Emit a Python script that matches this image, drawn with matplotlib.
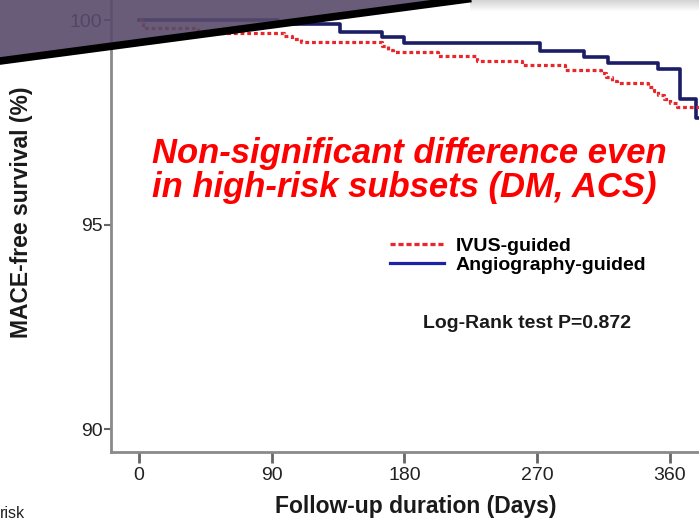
import numpy as np
import matplotlib
matplotlib.use("Agg")
import matplotlib.pyplot as plt
from matplotlib.lines import Line2D
from matplotlib.patches import Polygon

# Kaplan-Meier steps (days, % MACE-free)
ivus_days = [0, 3, 40, 98, 104, 110, 165, 169, 172, 203, 229, 260, 289, 313, 317, 321, 324, 345, 349, 352, 356, 360, 365, 385]
ivus_surv = [100, 99.80, 99.68, 99.61, 99.54, 99.47, 99.36, 99.27, 99.22, 99.12, 99.00, 98.90, 98.79, 98.70,
             98.61, 98.51, 98.46, 98.36, 98.26, 98.17, 98.07, 97.97, 97.88, 97.88]

angio_days = [0, 94, 136, 165, 180, 272, 302, 318, 352, 367, 378, 385]
angio_surv = [100, 99.90, 99.71, 99.58, 99.43, 99.25, 99.10, 98.95, 98.80, 98.07, 97.60, 97.60]

x_ticks = [0, 90, 180, 270, 360]
y_ticks = [90, 95, 100]
labels = ["IVUS-guided", "Angiography-guided"]

RED = "#e8262b"
NAVY = "#1b1d66"
GREY = "#8a8a8a"
FONT = "Liberation Sans"

plt.rcParams['font.family'] = [FONT, 'DejaVu Sans']

fig = plt.figure(figsize=(6.99, 5.23), dpi=100)
W, H = 699, 523
ax = fig.add_axes([110.7 / W, 1 - 452 / H, 1 - 110.7 / W, 452 / H])

ax.step(ivus_days, ivus_surv, where='post', color=RED, lw=2.3, ls=(0, (1.2, 0.9)), zorder=3)
ax.step(angio_days, angio_surv, where='post', color=NAVY, lw=2.6, zorder=2)

ax.set_xlim(-19.2, 379.8)
ax.set_ylim(89.44, 100.49)
ax.set_xticks(x_ticks)
ax.set_yticks(y_ticks)
for s in ['top', 'right']:
    ax.spines[s].set_visible(False)
for s in ['left', 'bottom']:
    ax.spines[s].set_color(GREY)
    ax.spines[s].set_linewidth(2)
ax.tick_params(axis='x', length=8, width=2, color='#666666', pad=3, labelsize=14, labelcolor='#222222')
ax.tick_params(axis='y', length=5, width=1.5, color='#666666', pad=1, labelsize=14, labelcolor='#222222')

fig.text(416 / W, 1 - 507 / H, "Follow-up duration (Days)", ha='center', va='center',
         fontsize=16.5, fontweight='bold', color='#1a1a1a')
fig.text(22 / W, 1 - 212 / H, "MACE-free survival (%)", rotation=90, ha='center', va='center',
         fontsize=16.5, fontweight='bold', color='#1a1a1a')

fig.text(152 / W, 1 - 197 / H, "Non-significant difference even\nin high-risk subsets (DM, ACS)",
         ha='left', va='baseline', fontsize=24.9, fontweight='bold', fontstyle='italic', color='#ff0000',
         linespacing=1.02)

handles = [Line2D([], [], color=RED, lw=2.3, ls=(0, (1.6, 0.9))),
           Line2D([], [], color='#1c22a8', lw=2.3)]
fig.legend(handles, labels, loc='upper left', bbox_to_anchor=(372 / W, 1 - 220 / H),
           frameon=False, handlelength=2.8, handletextpad=0.6, labelspacing=0.05,
           prop={'family': FONT, 'weight': 'bold', 'size': 14})
fig.text(527 / W, 1 - 323 / H, "Log-Rank test P=0.872", ha='center', va='center',
         fontsize=14, fontweight='bold', color='#1a1a1a')

fig.text(0, 1 - 506 / H, "risk", ha='left', va='top', fontsize=11.5, color='#222222')

# slide decoration: translucent purple corner with a black edge
corner = Polygon([(0, 1), (470 / W, 1), (0, 1 - 61 / H)], closed=True, transform=fig.transFigure,
                 facecolor='#594a6b', alpha=0.9, edgecolor='none', zorder=10)
fig.add_artist(corner)
fig.add_artist(Line2D([0, 475 / W], [1 - 61 / H, 1 + 2 / H], transform=fig.transFigure,
                      color='black', lw=5.5, zorder=11))
grad = np.linspace(0.72, 1, 12).reshape(-1, 1)
gax = fig.add_axes([470 / W, 1 - 12 / H, 1 - 470 / W, 12 / H], zorder=9)
gax.imshow(grad, aspect='auto', cmap='gray', vmin=0, vmax=1, alpha=0.6)
gax.axis('off')

fig.savefig("out.png", dpi=100)
